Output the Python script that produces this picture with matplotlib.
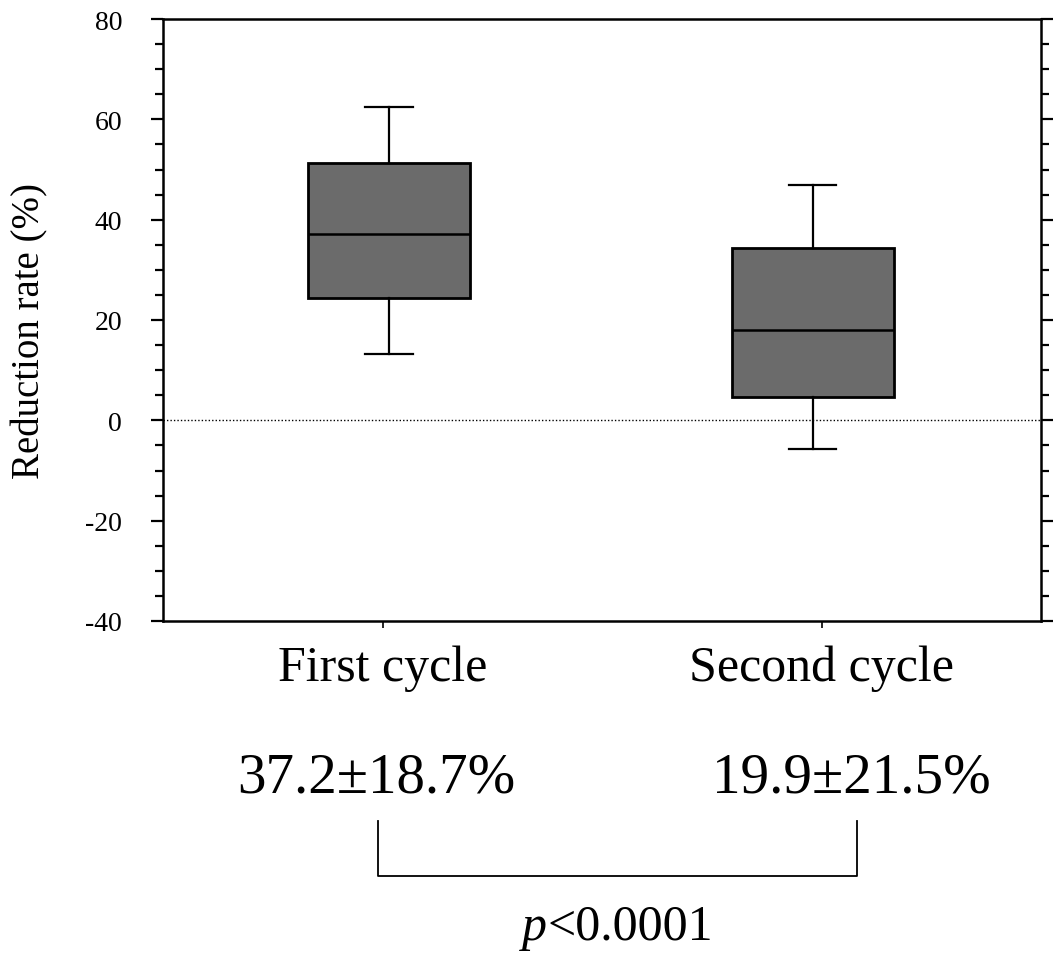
import matplotlib.pyplot as plt
from matplotlib.ticker import MultipleLocator

# box statistics (%)
groups = ['First cycle', 'Second cycle']
whishi = [62.5, 47.0]
q3 = [51.3, 34.4]
med = [37.2, 18.0]
q1 = [24.3, 4.6]
whislo = [13.3, -5.8]
mean_txt = ['37.2\u00b118.7%', '19.9\u00b121.5%']
p_txt = '<0.0001'

W, H = 1063, 962
plt.rcParams['font.family'] = ['Liberation Serif', 'DejaVu Serif']
plt.rcParams['axes.unicode_minus'] = False

fig = plt.figure(figsize=(W / 100, H / 100), dpi=100)
ax = fig.add_axes([163 / W, 1 - 622 / H, 878 / W, 602 / H])

stats = []
for i in range(len(groups)):
    stats.append({'whishi': whishi[i], 'q3': q3[i], 'med': med[i],
                  'q1': q1[i], 'whislo': whislo[i], 'label': groups[i]})

ax.bxp(stats, positions=[1.015, 1.98], widths=0.37, capwidths=0.108,
       showfliers=False, patch_artist=True,
       boxprops=dict(facecolor='#6b6b6b', edgecolor='black', linewidth=2.0),
       medianprops=dict(color='black', linewidth=1.8),
       whiskerprops=dict(color='black', linewidth=1.6),
       capprops=dict(color='black', linewidth=1.6))

ax.axhline(0, color='black', lw=1.0, ls=(0, (1, 1.5)), zorder=0)

ax.set_xlim(0.5, 2.5)
ax.set_ylim(-40, 80)
ax.yaxis.set_major_locator(MultipleLocator(20))
ax.yaxis.set_minor_locator(MultipleLocator(5))
ax.set_xticks([1, 2])
ax.set_xticklabels(groups, fontsize=36)

for s in ax.spines.values():
    s.set_linewidth(1.8)

ax.tick_params(axis='y', which='major', direction='out', length=8.5, width=1.6,
               labelsize=20, pad=21, right=True)
ax.tick_params(axis='y', which='minor', direction='out', length=6, width=1.6,
               right=True)
ax.tick_params(axis='x', direction='out', length=5, width=1.2, pad=12)

fig.text(30 / W, 1 - 331 / H, 'Reduction rate (%)', rotation=90,
         ha='center', va='center', fontsize=28)

# mean +/- SD under each group
for x, t in zip([376, 851], mean_txt):
    fig.text(x / W, 1 - 793 / H, t, ha='center', va='baseline', fontsize=41)

# bracket between groups
bx = [378 / W, 378 / W, 857 / W, 857 / W]
by = [1 - 822 / H, 1 - 877 / H, 1 - 877 / H, 1 - 822 / H]
fig.add_artist(plt.Line2D(bx, by, color='black', lw=1.3))

fig.text(547 / W, 1 - 940 / H, 'p', style='italic', ha='right',
         va='baseline', fontsize=36)
fig.text(548 / W, 1 - 940 / H, p_txt, ha='left', va='baseline', fontsize=36)

fig.savefig('out.png', dpi=100)
